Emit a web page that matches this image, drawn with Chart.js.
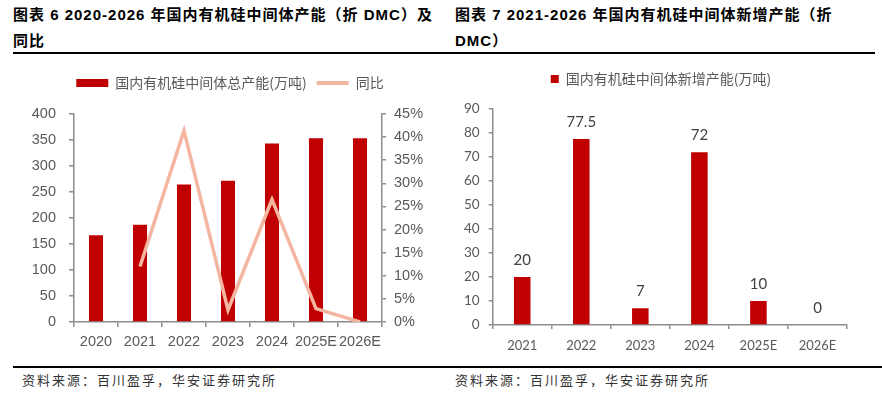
<!DOCTYPE html>
<html>
<head>
<meta charset="utf-8">
<script src="https://cdn.jsdelivr.net/npm/chart.js@4"></script>
<style>
  html, body { margin: 0; padding: 0; background: #fff; }
  body { width: 882px; height: 396px; position: relative; overflow: hidden; }
  .title {
    position: absolute; top: 2px; line-height: 26px; white-space: nowrap;
    font-family: "Liberation Sans", "Noto Sans CJK SC", sans-serif;
    font-size: 15px; font-weight: bold; color: #000; letter-spacing: 1px;
  }
  .rule { position: absolute; height: 1.5px; background: #000; }
  .src {
    position: absolute; top: 372px; line-height: 16px; white-space: nowrap;
    font-family: "Noto Sans CJK SC", sans-serif; font-size: 13px;
    color: #333; letter-spacing: 2px;
  }
  .box { position: absolute; top: 60px; height: 300px; }
</style>
</head>
<body>
<div class="title" style="left:13px">图表 6 2020-2026 年国内有机硅中间体产能（折 DMC）及<br>同比</div>
<div class="title" style="left:455px">图表 7 2021-2026 年国内有机硅中间体新增产能（折<br>DMC）</div>
<div class="rule" style="left:13px; width:862px; top:52px"></div>

<div class="box" style="left:0; width:440px"><canvas id="capacityChart"></canvas></div>
<div class="box" style="left:440px; width:442px"><canvas id="newChart"></canvas></div>

<div class="rule" style="left:13px; width:869px; top:366px"></div>
<div class="src" style="left:22px">资料来源：百川盈孚，华安证券研究所</div>
<div class="src" style="left:455px">资料来源：百川盈孚，华安证券研究所</div>

<script>
// data
const years = ['2020', '2021', '2022', '2023', '2024', '2025E', '2026E'];
const capacity = [167, 187, 264.5, 271.5, 343.5, 353.5, 353.5];   // 万吨
const yoy = [null, 12.0, 41.4, 2.6, 26.5, 2.9, 0];                // %
const newYears = ['2021', '2022', '2023', '2024', '2025E', '2026E'];
const newCapacity = [20, 77.5, 7, 72, 10, 0];                     // 万吨

const red = '#C00000';
const salmon = '#F4B6A0';
const axisGray = '#8c8c8c';

Chart.defaults.color = '#595959';
Chart.defaults.animation = false;

// fix the legend height (so the plot area lands where we want it)
// and optionally stretch the legend box sideways so it centres on the canvas
function legendBox(h, left, right) {
    return {
        id: 'legendBox',
        beforeUpdate(chart) {
            if (chart.legend && !chart.legend._fixed) {
                const fit = chart.legend.fit;
                chart.legend.fit = function () { fit.call(this); this.height = h; };
                chart.legend._fixed = true;
            }
        },
        afterLayout(chart) {
            if (left !== undefined) chart.legend.left = left;
            if (right !== undefined) chart.legend.right = right;
        }
    };
}

function axisGrid(len) {
    return { display: true, drawOnChartArea: false, drawTicks: true, tickLength: len, tickColor: axisGray, lineWidth: 1.5 };
}

// Chart 6: total capacity + yoy
var capacityCtx = document.getElementById('capacityChart').getContext('2d');
var capacityChart = new Chart(capacityCtx, {
    type: 'bar',
    data: {
        labels: years,
        datasets: [{
            label: '国内有机硅中间体总产能(万吨)',
            data: capacity,
            backgroundColor: red,
            barPercentage: 0.32,
            categoryPercentage: 1,
            order: 2,
            yAxisID: 'y'
        }, {
            type: 'line',
            label: '同比',
            data: yoy,
            borderColor: salmon,
            backgroundColor: salmon,
            borderWidth: 3.5,
            pointRadius: 0,
            tension: 0,
            order: 1,
            yAxisID: 'y1'
        }]
    },
    options: {
        responsive: true,
        maintainAspectRatio: false,
        layout: { padding: { top: 6, left: 0, right: 0, bottom: 0 } },
        plugins: {
            tooltip: { enabled: false },
            legend: {
                position: 'top',
                labels: {
                    usePointStyle: true,
                    pointStyleWidth: 32,
                    boxHeight: 8,
                    padding: 10,
                    color: '#595959',
                    font: { family: '"Noto Sans CJK SC"', size: 14 },
                    sort: (a, b) => a.datasetIndex - b.datasetIndex,
                    generateLabels(chart) {
                        const items = Chart.defaults.plugins.legend.labels.generateLabels(chart);
                        items.forEach(it => {
                            if (it.datasetIndex === 0) {
                                it.pointStyle = 'rect';
                                it.lineWidth = 0;
                            } else {
                                it.pointStyle = 'line';
                                it.lineWidth = 4;
                                it.strokeStyle = salmon;
                            }
                        });
                        return items;
                    }
                }
            }
        },
        scales: {
            x: {
                grid: axisGrid(5),
                border: { display: true, color: axisGray, width: 1.5 },
                ticks: { padding: 6, maxRotation: 0, autoSkip: false, font: { family: '"Liberation Sans"', size: 14.5 } },
                afterFit(s) { s.height = 38; }
            },
            y: {
                position: 'left',
                min: 0, max: 400,
                grid: axisGrid(5),
                border: { display: true, color: axisGray, width: 1.5 },
                ticks: { stepSize: 50, padding: 13, font: { family: '"Liberation Sans"', size: 14.5 } },
                afterFit(s) { s.width = 74; }
            },
            y1: {
                position: 'right',
                min: 0, max: 45,
                grid: axisGrid(4),
                border: { display: true, color: axisGray, width: 1.5 },
                ticks: { stepSize: 5, padding: 8, font: { family: '"Liberation Sans"', size: 14.5 },
                    callback: v => v + '%' },
                afterFit(s) { s.width = 58; }
            }
        }
    },
    plugins: [legendBox(48, 20, 440)]
});

// value labels above the bars
const barValues = {
    id: 'barValues',
    afterDatasetsDraw(chart) {
        const ctx = chart.ctx;
        const meta = chart.getDatasetMeta(0);
        ctx.save();
        ctx.fillStyle = '#404040';
        ctx.font = '15px Lato';
        ctx.textAlign = 'center';
        ctx.textBaseline = 'middle';
        meta.data.forEach((bar, i) => {
            ctx.fillText(String(chart.data.datasets[0].data[i]), bar.x, bar.y - 17);
        });
        ctx.restore();
    }
};

// Chart 7: new capacity
var newCtx = document.getElementById('newChart').getContext('2d');
var newChart = new Chart(newCtx, {
    type: 'bar',
    data: {
        labels: newYears,
        datasets: [{
            label: '国内有机硅中间体新增产能(万吨)',
            data: newCapacity,
            backgroundColor: red,
            barPercentage: 0.28,
            categoryPercentage: 1
        }]
    },
    options: {
        responsive: true,
        maintainAspectRatio: false,
        layout: { padding: { top: 2, left: 0, right: 35, bottom: 0 } },
        plugins: {
            tooltip: { enabled: false },
            legend: {
                position: 'top',
                labels: {
                    usePointStyle: true,
                    pointStyle: 'rect',
                    pointStyleWidth: 8,
                    boxHeight: 8,
                    padding: 10,
                    color: '#595959',
                    font: { family: '"Noto Sans CJK SC"', size: 14 }
                }
            }
        },
        scales: {
            x: {
                grid: axisGrid(4),
                border: { display: true, color: axisGray, width: 1.5 },
                ticks: { padding: 9, maxRotation: 0, autoSkip: false, font: { family: 'Lato', size: 13 } },
                afterFit(s) { s.height = 35; }
            },
            y: {
                min: 0, max: 90,
                grid: axisGrid(4),
                border: { display: true, color: axisGray, width: 1.5 },
                ticks: { stepSize: 10, padding: 9, font: { family: 'Lato', size: 13.5 } },
                afterFit(s) { s.width = 52.7; }
            }
        }
    },
    plugins: [legendBox(47, 0, 442), barValues]
});
</script>
</body>
</html>
